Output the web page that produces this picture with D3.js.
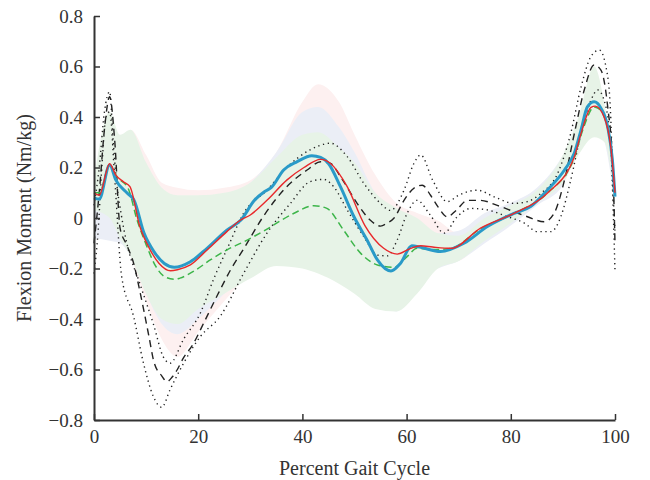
<!DOCTYPE html>
<html>
<head>
<meta charset="utf-8">
<script src="https://cdn.jsdelivr.net/npm/d3@7"></script>
<style>
  body { margin: 0; background: #fff; }
  svg text { font-family: "Liberation Serif", "DejaVu Serif", serif; fill: #333; }
</style>
</head>
<body>
<div id="chart"></div>
<script>
// values (x = percent gait cycle, y = Nm/kg)

const blueX = [0,1,3,4.2,6.4,7.7,9.6,11.5,13.5,15.4,18.5,21.7,25.5,28.2,30.8,32.7,34,36.4,39,41.8,43.5,45,47.3,49.9,52.4,54.4,57,58.8,61,62.7,66.5,71,75.5,80.6,83.8,87,90.3,92.2,93.5,94.7,96,97.3,98.6,99.5,100];
const blueY = [0.08,0.075,0.21,0.15,0.098,0.07,-0.06,-0.133,-0.18,-0.195,-0.173,-0.12,-0.048,-0.008,0.07,0.104,0.12,0.19,0.223,0.247,0.24,0.216,0.124,0.005,-0.087,-0.166,-0.21,-0.18,-0.11,-0.116,-0.133,-0.1,-0.034,0.018,0.045,0.11,0.19,0.257,0.35,0.44,0.46,0.435,0.36,0.23,0.085];

const redX = [0,1,3,4.2,5.6,6.9,8.8,10.8,12.5,14.7,16,18.5,21.7,25.5,28,30,33.2,37,40.3,43.5,45.4,48.6,52,55.6,58.2,60.8,62.7,65,68.5,74.2,80.6,87,92.2,93.5,95.4,96.2,97.9,99.2,100];
const redY = [0.1,0.09,0.215,0.17,0.144,0.124,-0.034,-0.127,-0.18,-0.209,-0.205,-0.186,-0.127,-0.054,-0.01,0.012,0.07,0.15,0.2,0.232,0.216,0.124,-0.03,-0.12,-0.143,-0.12,-0.11,-0.115,-0.12,-0.04,0.018,0.098,0.243,0.336,0.438,0.443,0.40,0.28,0.1];

const greenX = [0,1,3,4.5,6.5,8.3,9.9,11.9,13.5,15.5,16.5,19.2,22.4,25.6,28.8,32.7,38.3,42.2,44.7,47.9,51.2,54.4,57.6,60.1,62,65,68.5,74,80.6,87,92.2,94,96,97.9,99.2,100];
const greenY = [0.1,0.1,0.21,0.16,0.12,-0.01,-0.1,-0.193,-0.232,-0.243,-0.238,-0.21,-0.165,-0.125,-0.094,-0.05,0.018,0.049,0.038,-0.048,-0.14,-0.186,-0.195,-0.153,-0.12,-0.125,-0.12,-0.045,0.018,0.098,0.24,0.36,0.44,0.41,0.28,0.1];

const meanX = [0,1,2,3,4,5,6.3,7.7,8.6,9.6,10.6,11.5,13,14,15,16,17,19,21.2,23.7,26.2,28.8,32.3,37,40.9,43.5,45.4,47.3,50.5,53,55,56.3,57.6,59.5,61.4,63,64.6,66,67.8,69.5,71.7,74.2,77.4,80.6,83.2,86.4,88.3,90.3,92.2,94.1,96,97.3,98.6,99.6,100];
const meanY = [-0.1,0.1,0.35,0.48,0.3,-0.04,-0.107,-0.186,-0.27,-0.37,-0.475,-0.57,-0.625,-0.648,-0.63,-0.6,-0.56,-0.5,-0.41,-0.305,-0.206,-0.12,0.0,0.124,0.19,0.223,0.216,0.164,0.058,-0.008,-0.032,-0.02,0.0,0.07,0.118,0.13,0.09,0.045,0.005,0.03,0.07,0.07,0.05,0.025,0.005,-0.015,0.018,0.15,0.335,0.507,0.606,0.586,0.44,0.19,-0.1];

const upperX = [0,1,2,3,3.7,4.3,5.3,6.3,8.8,11.4,13.3,14.6,17.2,20.4,23,25.6,28.7,33.2,37,41.5,45.4,48.6,51.8,55,56.9,59.5,61.4,62.7,65,67.8,70,71.7,73.6,76.8,80.6,83.2,85.8,89,91.5,93.5,95.4,97,98.6,99.2,99.6,100];
const upperY = [0.05,0.2,0.42,0.5,0.3,0.15,0.005,-0.1,-0.26,-0.42,-0.55,-0.575,-0.48,-0.377,-0.24,-0.12,0.018,0.11,0.2,0.27,0.296,0.243,0.137,0.058,0.03,0.11,0.216,0.25,0.15,0.065,0.09,0.104,0.11,0.084,0.058,0.065,0.098,0.177,0.335,0.52,0.64,0.665,0.56,0.39,0.124,-0.05];

const lowerX = [0,0.8,1.5,2.3,3,4,5.3,7.6,9.5,11.4,13,14.6,17.2,20.4,24.2,28.7,33.2,37.7,41.5,44.1,46,48.6,51.8,54.4,56.3,58.2,60.1,62,64.6,67.2,69.7,72.3,75.5,79.4,82.6,85.1,87.7,89.6,91.5,93.5,95.4,96.7,97.9,99.2,99.7,100];
const lowerY = [-0.22,-0.05,0.2,0.4,0.42,0.15,-0.23,-0.39,-0.575,-0.707,-0.75,-0.68,-0.575,-0.47,-0.39,-0.22,-0.06,0.058,0.144,0.153,0.124,0.032,-0.074,-0.147,-0.15,-0.087,0.018,0.07,0.01,-0.06,0.005,0.038,0.032,0.005,-0.02,-0.054,-0.054,0.005,0.15,0.336,0.467,0.507,0.467,0.28,0.0,-0.21];

// shaded +/- bands
const bandX = [0,3,5,7,10,13,16,20,25,30,35,40,43,47,50,54,58,62,66,70,75,80,85,90,93,96,98,100];
const pinkHi = [0.15,0.3,0.3,0.35,0.25,0.14,0.12,0.11,0.12,0.15,0.26,0.46,0.53,0.46,0.33,0.17,0.06,0.02,-0.01,-0.06,0.0,0.05,0.1,0.22,0.35,0.5,0.42,0.15];
const pinkLo = [0.0,0.05,-0.05,-0.15,-0.33,-0.48,-0.55,-0.45,-0.33,-0.22,-0.17,-0.08,-0.05,-0.1,-0.2,-0.3,-0.3,-0.25,-0.18,-0.17,-0.08,-0.02,0.08,0.16,0.3,0.38,0.35,0.05];
const blueHi = [0.12,0.3,0.25,0.22,0.05,0.0,0.0,0.04,0.08,0.14,0.26,0.42,0.44,0.36,0.26,0.1,0.03,-0.02,-0.06,-0.05,0.02,0.06,0.12,0.25,0.38,0.55,0.44,0.12];
const blueLo = [-0.08,-0.09,-0.1,-0.15,-0.3,-0.42,-0.46,-0.4,-0.3,-0.2,-0.1,0.0,0.05,-0.05,-0.2,-0.34,-0.37,-0.25,-0.2,-0.17,-0.1,-0.03,0.05,0.13,0.28,0.37,0.3,0.05];
const greenHi = [0.15,0.42,0.33,0.35,0.22,0.12,0.09,0.09,0.1,0.14,0.24,0.33,0.34,0.28,0.22,0.1,0.04,0.0,-0.06,-0.07,0.0,0.05,0.11,0.25,0.4,0.6,0.45,0.15];
const greenLo = [0.03,0.0,-0.08,-0.15,-0.3,-0.4,-0.42,-0.36,-0.3,-0.24,-0.19,-0.2,-0.22,-0.26,-0.3,-0.36,-0.37,-0.3,-0.2,-0.17,-0.09,-0.02,0.06,0.14,0.25,0.32,0.3,0.05];

const xTicks = [0,20,40,60,80,100];
const yTicks = [-0.8,-0.6,-0.4,-0.2,0,0.2,0.4,0.6,0.8];
const yTickLabels = ["\u22120.8","\u22120.6","\u22120.4","\u22120.2","0","0.2","0.4","0.6","0.8"];

const width = 650, height = 480;
const margin = {top: 16, right: 35, bottom: 60, left: 94};

const svg = d3.select('#chart').append('svg')
    .attr('width', width)
    .attr('height', height);

const x = d3.scaleLinear([0, 100], [margin.left, width - margin.right]);
const y = d3.scaleLinear([-0.8, 0.8], [height - margin.bottom, margin.top]);

const zip = (xs, ys) => xs.map((v, i) => [v, ys[i]]);

const line = d3.line()
    .x(d => x(d[0]))
    .y(d => y(d[1]))
    .curve(d3.curveMonotoneX);

const area = d3.area()
    .x((d, i) => x(bandX[i]))
    .y0(d => y(d[0]))
    .y1(d => y(d[1]))
    .curve(d3.curveMonotoneX);

// opaque pale fills, later bands cover earlier ones
const bands = [
    {lo: pinkLo, hi: pinkHi, fill: '#fdf0f0'},
    {lo: blueLo, hi: blueHi, fill: '#ebeef6'},
    {lo: greenLo, hi: greenHi, fill: '#e7f3e7'}
];

svg.append('g').selectAll('path')
    .data(bands)
    .join('path')
    .attr('d', b => area(b.lo.map((v, i) => [v, b.hi[i]])))
    .attr('fill', b => b.fill);

const series = [
    {pts: zip(upperX, upperY), color: '#222', w: 1.4, dash: '1.3,3.6'},
    {pts: zip(lowerX, lowerY), color: '#222', w: 1.4, dash: '1.3,3.6'},
    {pts: zip(meanX, meanY), color: '#222', w: 1.4, dash: '7,5'},
    {pts: zip(greenX, greenY), color: '#3db54a', w: 1.5, dash: '7,4'},
    {pts: zip(blueX, blueY), color: '#2a9ac8', w: 3, dash: null},
    {pts: zip(redX, redY), color: '#e8282b', w: 1.4, dash: null}
];

svg.append('g').selectAll('path')
    .data(series)
    .join('path')
    .attr('d', s => line(s.pts))
    .attr('fill', 'none')
    .attr('stroke', s => s.color)
    .attr('stroke-width', s => s.w)
    .attr('stroke-dasharray', s => s.dash)
    .attr('stroke-linejoin', 'round');

// axes, ticks point inward
const xAxis = svg.append('g')
    .attr('transform', `translate(0,${height - margin.bottom})`)
    .call(d3.axisBottom(x).tickValues(xTicks).tickSize(-6).tickSizeOuter(0).tickPadding(10));

const yAxis = svg.append('g')
    .attr('transform', `translate(${margin.left},0)`)
    .call(d3.axisLeft(y).tickValues(yTicks).tickFormat((d, i) => yTickLabels[i])
        .tickSize(-6).tickSizeOuter(0).tickPadding(11));

[xAxis, yAxis].forEach(g => {
    g.select('.domain').attr('stroke', '#333').attr('stroke-width', 2);
    g.selectAll('.tick line').attr('stroke', '#333').attr('stroke-width', 1.5);
    g.selectAll('.tick text')
        .attr('font-family', '"Liberation Serif", serif')
        .attr('font-size', 19)
        .attr('fill', '#333');
});

svg.append('text')
    .attr('x', (margin.left + width - margin.right) / 2)
    .attr('y', 475)
    .attr('text-anchor', 'middle')
    .attr('font-size', 20)
    .text('Percent Gait Cycle');

svg.append('text')
    .attr('transform', `translate(31,${(margin.top + height - margin.bottom) / 2}) rotate(-90)`)
    .attr('text-anchor', 'middle')
    .attr('font-size', 20)
    .text('Flexion Moment (Nm/kg)');
</script>
</body>
</html>
